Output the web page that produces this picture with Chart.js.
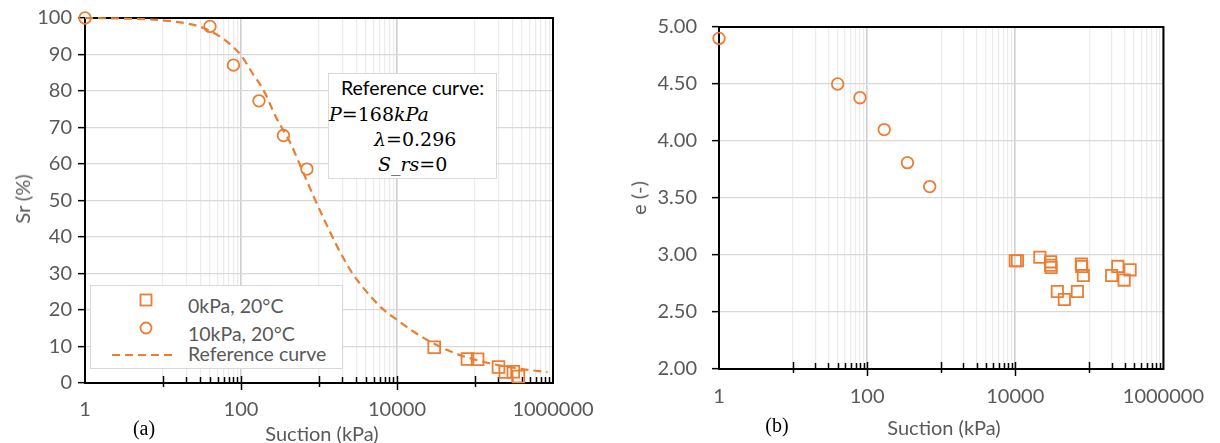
<!DOCTYPE html>
<html><head><meta charset="utf-8">
<script src="https://cdn.jsdelivr.net/npm/chart.js@4.4.1/dist/chart.umd.min.js"></script>
<style>
body{margin:0;background:#fff;width:1220px;height:443px;position:relative;overflow:hidden;font-family:Lato,"Open Sans",sans-serif;}
canvas{position:absolute;top:0;}
.t{position:absolute;color:#595959;font-size:20px;white-space:nowrap;line-height:1;transform:translate(-50%,-50%);}
.serif{font-family:"Liberation Serif","Times New Roman",serif;color:#000;}
.box{position:absolute;background:#fff;border:1px solid #d9d9d9;box-sizing:border-box;}
.math{position:absolute;font-family:"DejaVu Serif","Liberation Serif",serif;font-size:19px;color:#000;white-space:nowrap;line-height:1;transform:translateY(-50%);}
.math i{font-style:italic;}
.lg{position:absolute;color:#595959;font-size:19.5px;white-space:nowrap;line-height:1;transform:translateY(-50%);}
</style></head>
<body>
<canvas id="c1" width="610" height="443" style="left:0"></canvas>
<canvas id="c2" width="610" height="443" style="left:610px"></canvas>

<div class="t" style="left:22px;top:199px;transform:translate(-50%,-50%) rotate(-90deg)">Sr (%)</div>
<div class="t" style="left:322px;top:433px">Suction (kPa)</div>
<div class="t serif" style="left:144px;top:428px">(a)</div>
<div class="t" style="left:638px;top:198px;transform:translate(-50%,-50%) rotate(-90deg)">e (-)</div>
<div class="t" style="left:944px;top:427px">Suction (kPa)</div>
<div class="t serif" style="left:777px;top:425px">(b)</div>

<div class="box" style="left:328px;top:73px;width:169px;height:106px">
  <div style="position:absolute;left:12px;top:14px;transform:translateY(-50%);font-size:19.5px;color:#000;white-space:nowrap;line-height:1">Reference curve:</div>
  <div class="math" style="left:0px;top:40px"><i>P</i>=168<i>kPa</i></div>
  <div class="math" style="left:45px;top:65px"><i>λ</i>=0.296</div>
  <div class="math" style="left:49px;top:90px"><i>S_rs</i>=0</div>
</div>

<div class="box" style="left:90px;top:285px;width:253px;height:84px">
  <svg width="253" height="84" style="position:absolute;left:0;top:0">
    <rect x="49.5" y="8.5" width="11" height="11" fill="none" stroke="#ED7D31" stroke-width="1.8"/>
    <circle cx="55" cy="42" r="5.5" fill="none" stroke="#ED7D31" stroke-width="1.8"/>
    <line x1="21" y1="69" x2="83" y2="69" stroke="#ED7D31" stroke-width="2.2" stroke-dasharray="8,5"/>
  </svg>
  <div class="lg" style="left:97px;top:20px">0kPa, 20°C</div>
  <div class="lg" style="left:97px;top:48px">10kPa, 20°C</div>
  <div class="lg" style="left:97px;top:68px">Reference curve</div>
</div>

<script>
// ---- data ----
const xTickLabels = [1, 100, 10000, 1000000];
const srTicks = [0, 10, 20, 30, 40, 50, 60, 70, 80, 90, 100];
const eTicks = [2.0, 2.5, 3.0, 3.5, 4.0, 4.5, 5.0];

const curveSuction = [1, 5.3, 13, 29, 45, 71, 100, 141, 198, 277, 437, 612, 857, 1200, 1700, 2650, 4150, 6550, 10300, 18000, 29500, 63000, 124000, 245000, 480000, 850000];
const curveSr = [100, 99.7, 99.1, 97.7, 95.9, 93, 89.8, 84.8, 79.9, 73.1, 65.4, 58.2, 51, 44.2, 37.5, 30.2, 24.8, 20.3, 17.1, 13.5, 10.8, 7.7, 5.9, 4.5, 3.6, 3.0];

const circleSuction = [1, 40, 80, 170, 350, 700];
const circleSr = [100, 97.7, 87.1, 77.3, 67.8, 58.6];
const circleE = [4.90, 4.50, 4.38, 4.10, 3.81, 3.60];

const squareSuctionA = [30000, 80000, 108000, 200000, 245000, 310000, 360000];
const squareSrA = [9.8, 6.6, 6.5, 4.4, 3.0, 3.1, 1.8];

const squareSuctionB = [10000, 10700, 21500, 30000, 30000, 30500, 37000, 46000, 69000, 78000, 79000, 83000, 200000, 242000, 295000, 355000];
const squareEB = [2.95, 2.95, 2.98, 2.94, 2.91, 2.89, 2.68, 2.61, 2.68, 2.92, 2.90, 2.82, 2.82, 2.90, 2.78, 2.87];

// ---- helpers ----
const ORANGE = '#ED7D31';
const pts = (xs, ys) => xs.map((x, i) => ({x, y: ys[i]}));
const gridValues = [];
xTickLabels.forEach((m, i) => {
  gridValues.push(m);
  if (i < xTickLabels.length - 1) for (let k = 1; k <= 9; k++) gridValues.push(k * m * 10);
});
const isMajor = v => xTickLabels.includes(v);

const framePlugin = {
  id: 'frame',
  beforeDatasetsDraw(chart) {
    const {ctx, chartArea: a, scales: {x}} = chart;
    ctx.save();
    ctx.strokeStyle = '#000';
    ctx.lineWidth = 1.5;
    gridValues.forEach(v => {
      const px = Math.round(x.getPixelForValue(v)) + 0.5;
      if (px <= a.left + 1 || px >= a.right - 1) return;
      let up = 6, down = 0;
      if (isMajor(v)) { up = 7; down = 7; }
      else if (Math.abs(Math.log10(v) - Math.round(Math.log10(v))) < 1e-9) { up = 7; down = 4; }
      ctx.beginPath(); ctx.moveTo(px, a.bottom - up); ctx.lineTo(px, a.bottom + down); ctx.stroke();
    });
    ctx.lineWidth = 2;
    ctx.strokeRect(a.left, a.top, a.right - a.left, a.bottom - a.top);
    ctx.restore();
  }
};

function xScale(labelPad, height) {
  return {
    type: 'logarithmic', min: 1, max: 1000000,
    afterBuildTicks: s => { s.ticks = gridValues.map(v => ({value: v})); },
    afterFit: s => { s.height = height; },
    ticks: {
      autoSkip: false, maxRotation: 0, padding: labelPad, color: '#595959',
      font: {family: 'Lato', size: 20},
      callback: v => isMajor(v) ? String(v) : ''
    },
    grid: {
      drawTicks: false,
      color: c => isMajor(c.tick.value) ? '#cfcfcf' : '#ebebeb',
      lineWidth: c => isMajor(c.tick.value) ? 1.6 : 1.2
    },
    border: {display: false}
  };
}
function yScale(ticksArr, width, pad, fmt) {
  return {
    type: 'linear', min: ticksArr[0], max: ticksArr[ticksArr.length - 1],
    afterBuildTicks: s => { s.ticks = ticksArr.map(v => ({value: v})); },
    afterFit: s => { s.width = width; },
    ticks: {padding: pad, color: '#595959', font: {family: 'Lato', size: 20}, callback: fmt},
    grid: {color: '#d9d9d9', lineWidth: 1.3, tickLength: 7, tickColor: '#000', tickWidth: 1.5},
    border: {display: false}
  };
}

Chart.defaults.font.family = 'Lato';

new Chart(document.getElementById('c1'), {
  type: 'scatter',
  data: {datasets: [
    {label: '0kPa, 20°C', data: pts(squareSuctionA, squareSrA), pointStyle: 'rect', pointRadius: 8.3,
     borderColor: ORANGE, backgroundColor: 'rgba(0,0,0,0)', borderWidth: 1.8, order: 1, clip: false},
    {label: '10kPa, 20°C', data: pts(circleSuction, circleSr), pointStyle: 'circle', pointRadius: 5.8,
     borderColor: ORANGE, backgroundColor: 'rgba(0,0,0,0)', borderWidth: 1.8, order: 2, clip: false},
    {label: 'Reference curve', data: pts(curveSuction, curveSr), showLine: true, pointRadius: 0,
     borderColor: ORANGE, borderWidth: 2.2, borderDash: [8, 5], cubicInterpolationMode: 'monotone', order: 3, clip: false}
  ]},
  options: {
    responsive: false, animation: false, devicePixelRatio: 1,
    layout: {padding: {left: 0, top: 15, right: 57, bottom: 0}},
    plugins: {legend: {display: false}, tooltip: {enabled: false}},
    scales: {x: xScale(15, 60), y: yScale(srTicks, 85, 6, v => String(v))}
  },
  plugins: [framePlugin]
});

new Chart(document.getElementById('c2'), {
  type: 'scatter',
  data: {datasets: [
    {label: '0kPa, 20°C', data: pts(squareSuctionB, squareEB), pointStyle: 'rect', pointRadius: 8,
     borderColor: ORANGE, backgroundColor: 'rgba(0,0,0,0)', borderWidth: 1.8, clip: false},
    {label: '10kPa, 20°C', data: pts(circleSuction, circleE), pointStyle: 'circle', pointRadius: 5.8,
     borderColor: ORANGE, backgroundColor: 'rgba(0,0,0,0)', borderWidth: 1.8, clip: false}
  ]},
  options: {
    responsive: false, animation: false, devicePixelRatio: 1,
    layout: {padding: {left: 0, top: 27, right: 43, bottom: 0}},
    plugins: {legend: {display: false}, tooltip: {enabled: false}},
    scales: {x: xScale(16, 74), y: yScale(eTicks, 109, 15, v => Number(v).toFixed(2))}
  },
  plugins: [framePlugin]
});
</script>
</body></html>
